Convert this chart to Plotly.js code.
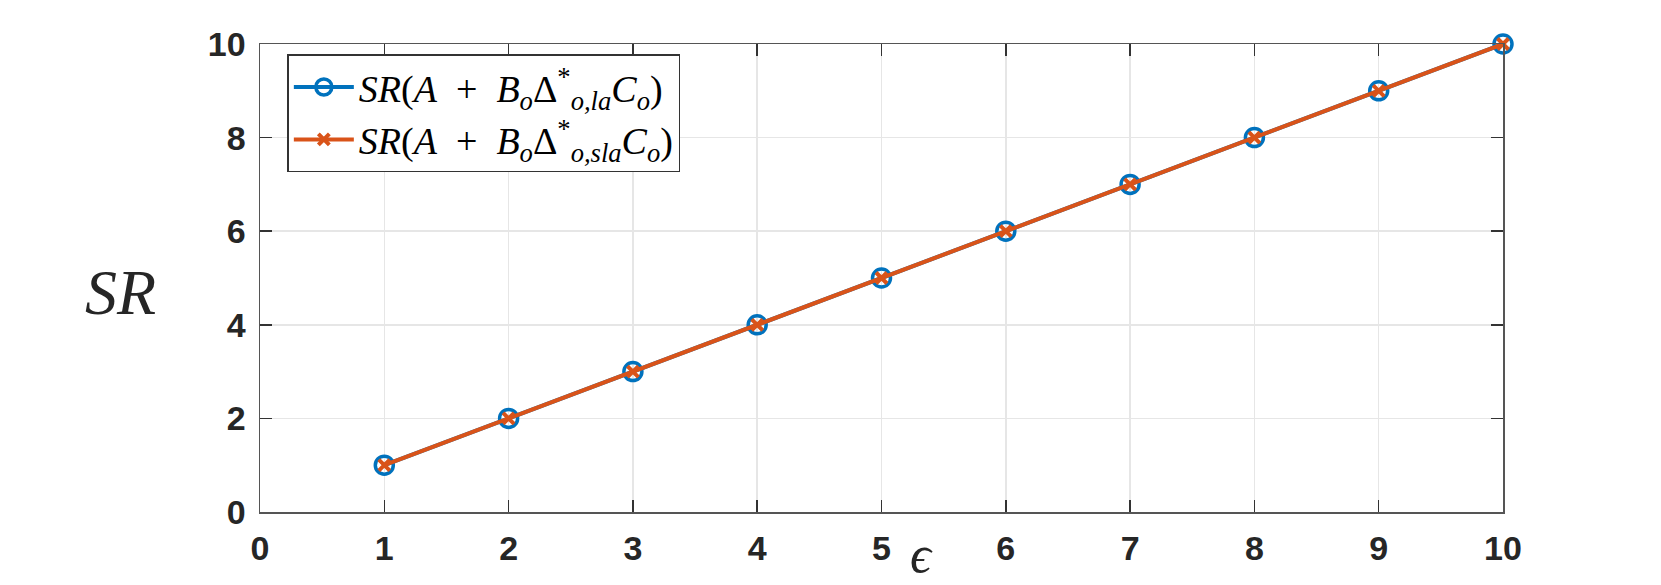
<!DOCTYPE html>
<html>
<head>
<meta charset="utf-8">
<script src="https://cdn.plot.ly/plotly-3.0.1.min.js"></script>
<style>
  body { margin: 0; background: #fff; }
  #chart { width: 1661px; height: 585px; }
</style>
</head>
<body>
<div id="chart"></div>
<script>
// values
var epsValues = [1, 2, 3, 4, 5, 6, 7, 8, 9, 10];
var srLa = [1, 2, 3, 4, 5, 6, 7, 8, 9, 10];
var srSla = [1, 2, 3, 4, 5, 6, 7, 8, 9, 10];
var tickVals = [0, 2, 4, 6, 8, 10];
var xTickVals = [0, 1, 2, 3, 4, 5, 6, 7, 8, 9, 10];

var sp = "\u2002";
var nameLa = "<i>SR</i>(<i>A</i>" + sp + "+" + sp + "<i>B<sub>o</sub></i>Δ<sup>*</sup><sub><i>o,la</i></sub><i>C<sub>o</sub></i>)";
var nameSla = "<i>SR</i>(<i>A</i>" + sp + "+" + sp + "<i>B<sub>o</sub></i>Δ<sup>*</sup><sub><i>o,sla</i></sub><i>C<sub>o</sub></i>)";

var blue = "#0072BD";
var orange = "#D95319";

var traceLa = {
    x: epsValues,
    y: srLa,
    name: nameLa,
    type: "scatter",
    mode: "lines+markers",
    line: { color: blue, width: 4 },
    marker: { symbol: "circle-open", size: 18, color: blue, line: { color: blue, width: 3.5 } },
    cliponaxis: false
};

var traceSla = {
    x: epsValues,
    y: srSla,
    name: nameSla,
    type: "scatter",
    mode: "lines+markers",
    line: { color: orange, width: 4 },
    marker: { symbol: "x-thin", size: 11, color: orange, line: { color: orange, width: 4 } },
    cliponaxis: false
};

var axisCommon = {
    showline: true,
    linecolor: "#555555",
    linewidth: 1.5,
    mirror: "ticks",
    ticks: "inside",
    ticklen: 12,
    tickwidth: 1.5,
    tickcolor: "#333333",
    showgrid: true,
    gridcolor: "#e6e6e6",
    gridwidth: 1.5,
    zeroline: false,
    tickfont: { family: "Liberation Sans, Arial, sans-serif", size: 34, color: "#262626", weight: "bold" },
    range: [0, 10],
    fixedrange: true
};

var layout = {
    width: 1661,
    height: 585,
    margin: { l: 260, r: 158, t: 44, b: 73 },
    paper_bgcolor: "#ffffff",
    plot_bgcolor: "#ffffff",
    showlegend: true,
    xaxis: Object.assign({}, axisCommon, { tickvals: xTickVals, ticklabelstandoff: 6 }),
    yaxis: Object.assign({}, axisCommon, { tickvals: tickVals, ticklabelstandoff: 6 }),
    legend: {
        x: 0.022,
        y: 0.978,
        xanchor: "left",
        yanchor: "top",
        bgcolor: "#ffffff",
        bordercolor: "#333333",
        borderwidth: 1.5,
        itemwidth: 60,
        font: { family: "Liberation Serif, Times New Roman, serif", size: 38, color: "#000000" },
        tracegroupgap: 0
    },
    annotations: [
        {
            text: "<i>SR</i>",
            xref: "paper", yref: "paper",
            x: 0, y: 0.5,
            xanchor: "center", yanchor: "middle",
            xshift: -140, yshift: -14,
            showarrow: false,
            font: { family: "Liberation Serif, Times New Roman, serif", size: 64, color: "#262626" }
        },
        {
            text: "<i>ϵ</i>",
            xref: "paper", yref: "paper",
            x: 0.532, y: 0,
            xanchor: "center", yanchor: "middle",
            yshift: -42,
            showarrow: false,
            font: { family: "Liberation Serif, Times New Roman, serif", size: 52, color: "#262626" }
        }
    ]
};

Plotly.newPlot("chart", [traceLa, traceSla], layout, { displayModeBar: false, staticPlot: true });
</script>
</body>
</html>
